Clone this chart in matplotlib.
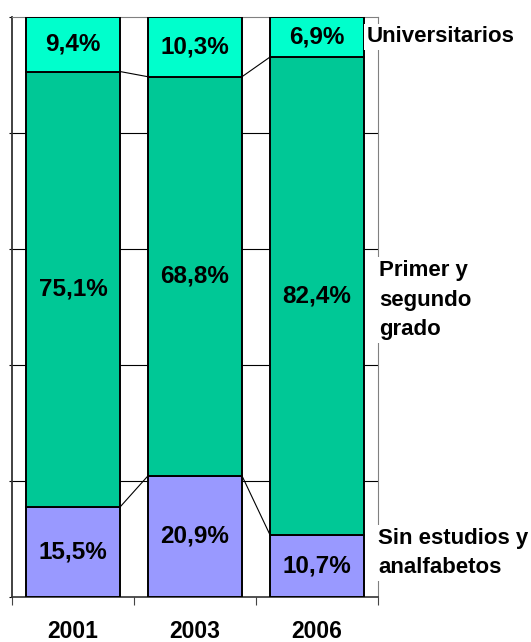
import matplotlib.pyplot as plt
import numpy as np

# data
years = ["2001", "2003", "2006"]
sin_estudios = [15.5, 20.9, 10.7]
primer_segundo = [75.1, 68.8, 82.4]
universitarios = [9.4, 10.3, 6.9]

series_names = ["Sin estudios y\nanalfabetos", "Primer y\nsegundo\ngrado", "Universitarios"]
colors = ["#9999FF", "#00C896", "#00FFCC"]

plt.rcParams['font.family'] = ['Liberation Sans', 'DejaVu Sans']

fig = plt.figure(figsize=(5.31, 6.42), dpi=100)
ax = fig.add_axes([12 / 531, 45 / 642, 366 / 531, 580 / 642])

x = np.arange(len(years))
width = 0.77
series = [sin_estudios, primer_segundo, universitarios]

bottom = np.zeros(len(years))
for vals, col in zip(series, colors):
    vals = np.array(vals)
    ax.bar(x, vals, width, bottom=bottom, color=col, edgecolor="black", linewidth=1.4, zorder=3)
    for xi, b, v in zip(x, bottom, vals):
        label = f"{v:.1f}%".replace(".", ",")
        ax.text(xi, b + v / 2, label, ha="center", va="center", fontsize=17.5,
                fontweight="bold", zorder=5)
    bottom = bottom + vals
    # series lines between bars
    if not np.allclose(bottom, 100):
        for i in range(len(years) - 1):
            ax.plot([x[i] + width / 2, x[i + 1] - width / 2], [bottom[i], bottom[i + 1]],
                    color="black", linewidth=0.8, zorder=4)

ax.set_xlim(-0.5, 2.5)
ax.set_ylim(0, 100)

# gridlines
for g in [20, 40, 60, 80]:
    ax.axhline(g, color="black", linewidth=0.8, zorder=1)

ax.set_yticks([0, 20, 40, 60, 80, 100])
ax.set_yticklabels([])
ax.tick_params(axis="y", direction="out", length=2, width=0.8)

ax.set_xticks([-0.5, 0.5, 1.5, 2.5])
ax.set_xticklabels([])
ax.tick_params(axis="x", direction="out", length=6, width=0.8, colors="#444444")
for xi, yr in zip(x, years):
    ax.text(xi, -7.0, yr, ha="center", va="baseline", fontsize=16.5, fontweight="bold",
            clip_on=False)

ax.spines["left"].set_color("#333333")
ax.spines["left"].set_linewidth(1.3)
ax.spines["bottom"].set_color("#333333")
ax.spines["bottom"].set_linewidth(1.2)
ax.spines["top"].set_color("#808080")
ax.spines["right"].set_color("#808080")

# series names on the right
box = dict(facecolor="white", edgecolor="none", pad=2)
ax.text(2.41, 96.6, series_names[2], ha="left", va="center", fontsize=16,
        fontweight="bold", bbox=box, clip_on=False, zorder=6)
ax.text(2.51, 51.2, series_names[1], ha="left", va="center", fontsize=16,
        fontweight="bold", linespacing=1.55, bbox=box, clip_on=False, zorder=6)
ax.text(2.5, 7.6, series_names[0], ha="left", va="center", fontsize=16,
        fontweight="bold", linespacing=1.55, bbox=box, clip_on=False, zorder=6)

fig.savefig("out.png", dpi=100)
